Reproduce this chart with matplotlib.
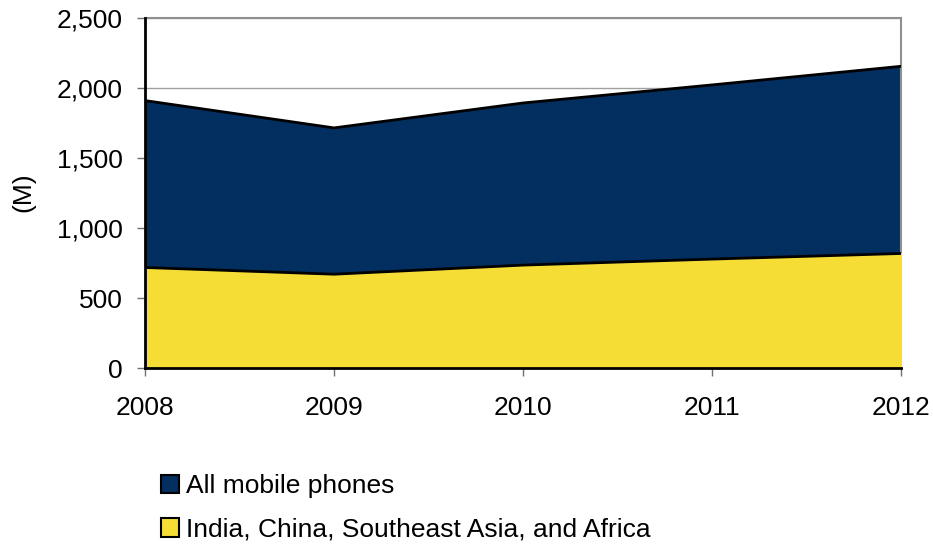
import matplotlib.pyplot as plt
from matplotlib.patches import Patch

plt.rcParams['font.family'] = ['Liberation Sans', 'DejaVu Sans']

years = [2008, 2009, 2010, 2011, 2012]
all_phones = [1910, 1715, 1893, 2022, 2155]
emerging = [718, 670, 735, 778, 818]

dark = '#022f60'
yellow = '#f6dd36'

W, H = 933, 544
fig = plt.figure(figsize=(W / 100, H / 100), dpi=100)
ax = fig.add_axes([145 / W, 1 - 368 / H, 756 / W, 350 / H])

# gridlines behind the areas
ax.set_axisbelow(True)
ax.yaxis.grid(True, color='#a0a0a0', linewidth=1)

ax.fill_between(years, 0, all_phones, color=dark, zorder=2)
ax.plot(years, all_phones, color='black', linewidth=2, zorder=3)
ax.fill_between(years, 0, emerging, color=yellow, zorder=4)
ax.plot(years, emerging, color='black', linewidth=2, zorder=5)

ax.set_xlim(2008, 2012)
ax.set_ylim(0, 2500)
ax.set_xticks(years)
ax.set_yticks(range(0, 2501, 500))
ax.set_yticklabels([f'{v:,}' for v in range(0, 2501, 500)])

for s in ['top', 'right']:
    ax.spines[s].set_color('#909090')
    ax.spines[s].set_linewidth(1.5)
for s in ['left', 'bottom']:
    ax.spines[s].set_color('black')
    ax.spines[s].set_linewidth(2)
    ax.spines[s].set_zorder(6)

ax.tick_params(axis='both', direction='out', length=6, width=1, color='#707070',
               labelsize=19, labelcolor='black')
ax.tick_params(axis='x', pad=14)
ax.tick_params(axis='y', pad=10)

fig.text(23 / W, 1 - 192 / H, '(M)', fontsize=19, rotation=90, ha='center', va='center')

handles = [Patch(facecolor=dark, edgecolor='black', linewidth=1.5, label='All mobile phones'),
           Patch(facecolor=yellow, edgecolor='black', linewidth=1.5,
                 label='India, China, Southeast Asia, and Africa')]
fig.legend(handles=handles, loc='upper left', bbox_to_anchor=(161 / W, 1 - 474 / H),
           frameon=False, fontsize=19, handlelength=0.68, handleheight=0.68,
           handletextpad=0.25, labelspacing=0.75, borderaxespad=0, borderpad=0)

fig.savefig('out.png', dpi=100)
